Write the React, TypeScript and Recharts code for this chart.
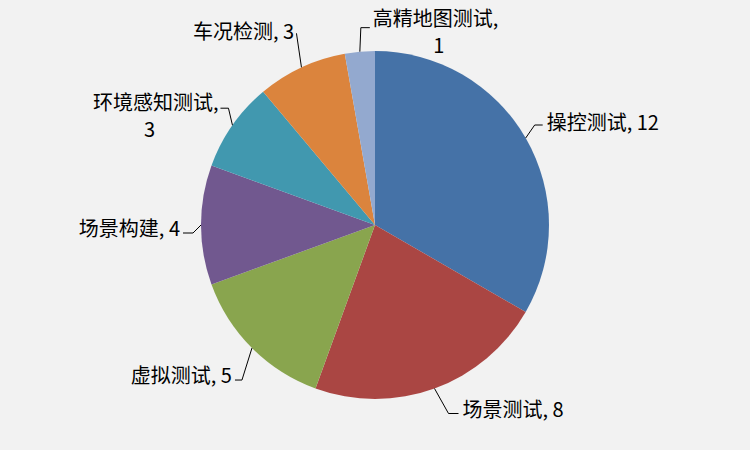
import React from "react";
import { PieChart, Pie, Cell } from "recharts";

const categories = ["操控测试", "场景测试", "虚拟测试", "场景构建", "环境感知测试", "车况检测", "高精地图测试"];
const values = [12, 8, 5, 4, 3, 3, 1];
const colors = ["#4572A7", "#AA4643", "#89A54E", "#71588F", "#4198AF", "#DB843D", "#93A9CF"];

const data = categories.map((name, i) => ({ name, value: values[i] }));

// label layout: elbow offset from slice edge, horizontal leg, text placement
type Layout = { ex: number; ey: number; h: number; tx: number; ty: number; anchor: "start" | "end" | "middle"; split?: boolean; ty2?: number; tx2?: number };
const labelLayout: Layout[] = [
  { ex: 9, ey: -13, h: 8, tx: 4, ty: -4, anchor: "start" },
  { ex: 14, ey: 25, h: 10, tx: 4, ty: -5, anchor: "start" },
  { ex: -10, ey: 32, h: -7, tx: -3, ty: -6, anchor: "end" },
  { ex: -8, ey: 8, h: -10, tx: -3, ty: -6, anchor: "end" },
  { ex: -4, ey: -17, h: -8, tx: -2, ty: -7, anchor: "end", split: true, tx2: -69, ty2: 27 },
  { ex: -5, ey: -34, h: 0, tx: -53, ty: -3, anchor: "middle" },
  { ex: 1, ey: -24, h: 9, tx: 3, ty: -10, anchor: "start", split: true, tx2: 66, ty2: 27 },
];

const RAD = Math.PI / 180;
const FONT = "'Noto Sans CJK SC', 'Noto Sans', sans-serif";
const FS = 20;

const renderLabel = (props: any) => {
  const { cx, cy, midAngle, outerRadius, index } = props;
  const L = labelLayout[index];
  const x0 = cx + outerRadius * Math.cos(-midAngle * RAD);
  const y0 = cy + outerRadius * Math.sin(-midAngle * RAD);
  const x1 = x0 + L.ex;
  const y1 = y0 + L.ey;
  const x2 = x1 + L.h;
  const y2 = y1;
  const tx = x2 + L.tx;
  const ty = y2 + L.ty;
  const name = categories[index];
  const v = values[index];
  return (
    <g key={`lbl-${index}`}>
      <polyline points={`${x0},${y0} ${x1},${y1} ${x2},${y2}`} fill="none" stroke="#000" strokeWidth={1} />
      {L.split ? (
        <>
          <text x={tx} y={ty} textAnchor={L.anchor} dominantBaseline="central" fontSize={FS} fontFamily={FONT} fill="#000">
            {name},
          </text>
          <text x={tx + (L.tx2 || 0)} y={ty + (L.ty2 || 0)} textAnchor="middle" dominantBaseline="central" fontSize={FS} fontFamily={FONT} fill="#000">
            {v}
          </text>
        </>
      ) : (
        <text x={tx} y={ty} textAnchor={L.anchor} dominantBaseline="central" fontSize={FS} fontFamily={FONT} fill="#000">
          {`${name}, ${v}`}
        </text>
      )}
    </g>
  );
};

export default function App() {
  return (
    <div style={{ position: "absolute", left: 0, top: 0, width: 750, height: 450, background: "#F2F2F2" }}>
      <PieChart width={750} height={450} margin={{ top: 0, right: 0, bottom: 0, left: 0 }}>
        <Pie
          data={data}
          dataKey="value"
          nameKey="name"
          cx={375}
          cy={225}
          outerRadius={174}
          startAngle={90}
          endAngle={-270}
          stroke="none"
          label={renderLabel}
          labelLine={false}
          isAnimationActive={false}
        >
          {data.map((d, i) => (
            <Cell key={d.name} fill={colors[i]} />
          ))}
        </Pie>
      </PieChart>
    </div>
  );
}
